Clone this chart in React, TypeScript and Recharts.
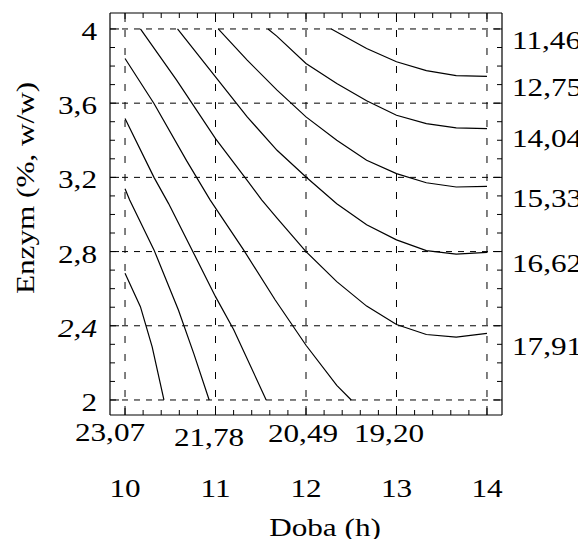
import React from "react";
import { LineChart, Line, XAxis, YAxis, ReferenceLine } from "recharts";

// axis ticks and labels
const X_TICKS = [10, 11, 12, 13, 14];
const X_TICK_LABELS = ["10", "11", "12", "13", "14"];
const X_MINOR = Array.from({ length: 21 }, (_, i) => +(10 + i * 0.2).toFixed(1));
const Y_TICKS = [2, 2.4, 2.8, 3.2, 3.6, 4];
const Y_TICK_LABELS = ["2", "2,4", "2,8", "3,2", "3,6", "4"];
const Y_MINOR = Array.from({ length: 21 }, (_, i) => +(2 + i * 0.1).toFixed(1));

// contour level labels
const BOTTOM_LEVELS = ["23,07", "21,78", "20,49", "19,20"];
const RIGHT_LEVELS = ["11,46", "12,75", "14,04", "15,33", "16,62", "17,91"];

// contour lines (x = Doba, y = Enzym)
const c1275 = [
  { x: 12.28, y: 4.0 }, { x: 12.67, y: 3.895 }, { x: 13.0, y: 3.823 },
  { x: 13.33, y: 3.775 }, { x: 13.66, y: 3.748 }, { x: 14.0, y: 3.744 },
];
const c1404 = [
  { x: 11.58, y: 4.0 }, { x: 11.68, y: 3.96 }, { x: 12.0, y: 3.814 },
  { x: 12.34, y: 3.706 }, { x: 12.67, y: 3.613 }, { x: 13.0, y: 3.535 },
  { x: 13.33, y: 3.49 }, { x: 13.66, y: 3.467 }, { x: 14.0, y: 3.463 },
];
const c1533 = [
  { x: 11.03, y: 4.0 }, { x: 11.35, y: 3.832 }, { x: 11.68, y: 3.67 },
  { x: 12.0, y: 3.526 }, { x: 12.34, y: 3.4 }, { x: 12.67, y: 3.292 },
  { x: 13.0, y: 3.22 }, { x: 13.33, y: 3.171 }, { x: 13.66, y: 3.148 },
  { x: 14.0, y: 3.151 },
];
const c1662 = [
  { x: 10.58, y: 4.0 }, { x: 11.0, y: 3.742 }, { x: 11.35, y: 3.526 },
  { x: 11.68, y: 3.346 }, { x: 12.0, y: 3.202 }, { x: 12.34, y: 3.058 },
  { x: 12.67, y: 2.944 }, { x: 13.0, y: 2.863 }, { x: 13.33, y: 2.805 },
  { x: 13.66, y: 2.786 }, { x: 14.0, y: 2.796 },
];
const c1791 = [
  { x: 10.17, y: 4.0 }, { x: 10.57, y: 3.724 }, { x: 11.0, y: 3.409 },
  { x: 11.35, y: 3.184 }, { x: 11.51, y: 3.079 }, { x: 11.68, y: 2.98 },
  { x: 12.0, y: 2.8 }, { x: 12.34, y: 2.638 }, { x: 12.67, y: 2.506 },
  { x: 13.0, y: 2.407 }, { x: 13.33, y: 2.353 }, { x: 13.66, y: 2.339 },
  { x: 14.0, y: 2.359 },
];
const c1920 = [
  { x: 10.0, y: 3.841 }, { x: 10.32, y: 3.598 }, { x: 10.68, y: 3.29 },
  { x: 10.94, y: 3.079 }, { x: 11.31, y: 2.809 }, { x: 11.66, y: 2.539 },
  { x: 12.0, y: 2.295 }, { x: 12.34, y: 2.079 }, { x: 12.5, y: 2.0 },
];
const c2049 = [
  { x: 10.0, y: 3.517 }, { x: 10.32, y: 3.2 }, { x: 10.48, y: 3.06 },
  { x: 10.76, y: 2.79 }, { x: 11.0, y: 2.557 }, { x: 11.2, y: 2.38 },
  { x: 11.56, y: 2.0 },
];
const c2178 = [
  { x: 10.0, y: 3.139 }, { x: 10.05, y: 3.079 }, { x: 10.32, y: 2.809 },
  { x: 10.59, y: 2.485 }, { x: 10.76, y: 2.25 }, { x: 10.93, y: 2.0 },
];
const c2307 = [
  { x: 10.0, y: 2.683 }, { x: 10.17, y: 2.503 }, { x: 10.3, y: 2.286 },
  { x: 10.43, y: 2.0 },
];
const CONTOURS = [c1275, c1404, c1533, c1662, c1791, c1920, c2049, c2178, c2307];

// layout (page pixels)
const W = 586;
const H = 547;
const PL = 110, PR = 502, PT = 13, PB = 415;
const X_DOMAIN = [9.834, 14.166];
const Y_DOMAIN = [1.919, 4.086];
const BOTTOM_POS = [[110, 441], [209, 446], [303, 442], [389, 442]];
const RIGHT_X = 512;
const RIGHT_Y = [49, 96, 147, 207, 272, 355];

const isOn = (list: number[], v: number) => list.findIndex((t) => Math.abs(t - v) < 1e-6);

function Txt({ x, y, children, anchor = "middle", italic = false, rotate = 0 }: any) {
  return (
    <text
      transform={`translate(${x},${y}) rotate(${rotate}) scale(1.2,1)`}
      textAnchor={anchor}
      style={{ fontFamily: "'Liberation Serif', 'Times New Roman', serif", fontSize: 26 }}
      fontStyle={italic ? "italic" : "normal"}
      fill="#000"
    >
      {children}
    </text>
  );
}

const BottomTick = (p: any) => {
  const i = isOn(X_TICKS, p.payload.value);
  return (
    <g>
      <line x1={p.x} x2={p.x} y1={PB} y2={PB - (i >= 0 ? 9 : 5)} stroke="#000" />
      {i >= 0 && <Txt x={p.x} y={497}>{X_TICK_LABELS[i]}</Txt>}
    </g>
  );
};

const TopTick = (p: any) => {
  const i = isOn(X_TICKS, p.payload.value);
  return <line x1={p.x} x2={p.x} y1={PT} y2={PT + (i >= 0 ? 9 : 5)} stroke="#000" />;
};

const LeftTick = (p: any) => {
  const i = isOn(Y_TICKS, p.payload.value);
  return (
    <g>
      <line x1={PL} x2={PL + (i >= 0 ? 9 : 5)} y1={p.y} y2={p.y} stroke="#000" />
      {i >= 0 && (
        <Txt x={97} y={p.y + 11} anchor="end" italic={Y_TICK_LABELS[i] === "2,4"}>
          {Y_TICK_LABELS[i]}
        </Txt>
      )}
    </g>
  );
};

const RightTick = (p: any) => {
  const i = isOn(Y_TICKS, p.payload.value);
  return <line x1={PR} x2={PR - (i >= 0 ? 9 : 5)} y1={p.y} y2={p.y} stroke="#000" />;
};

const frame = { stroke: "#000", strokeWidth: 1.2 };

export default function App() {
  return (
    <div style={{ width: W, height: H, margin: -8, position: "relative", background: "#fff" }}>
      <LineChart width={W} height={H} margin={{ top: 0, right: 0, bottom: 0, left: 0 }}>
        <XAxis xAxisId="b" type="number" dataKey="x" domain={X_DOMAIN} allowDataOverflow
          ticks={X_MINOR} interval={0} height={H - PB} tickLine={false} axisLine={frame}
          tick={(p: any) => <BottomTick {...p} />} />
        <XAxis xAxisId="t" orientation="top" type="number" dataKey="x" domain={X_DOMAIN} allowDataOverflow
          ticks={X_MINOR} interval={0} height={PT} tickLine={false} axisLine={frame}
          tick={(p: any) => <TopTick {...p} />} />
        <YAxis yAxisId="l" type="number" domain={Y_DOMAIN} allowDataOverflow
          ticks={Y_MINOR} interval={0} width={PL} tickLine={false} axisLine={frame}
          tick={(p: any) => <LeftTick {...p} />} />
        <YAxis yAxisId="r" orientation="right" type="number" domain={Y_DOMAIN} allowDataOverflow
          ticks={Y_MINOR} interval={0} width={W - PR} tickLine={false} axisLine={frame}
          tick={(p: any) => <RightTick {...p} />} />
        {X_TICKS.map((v) => (
          <ReferenceLine key={"gx" + v} x={v} xAxisId="b" yAxisId="l" stroke="#000" strokeDasharray="7 11" />
        ))}
        {Y_TICKS.map((v) => (
          <ReferenceLine key={"gy" + v} y={v} xAxisId="b" yAxisId="l" stroke="#000" strokeDasharray="6 6" />
        ))}
        {CONTOURS.map((c, i) => (
          <Line key={i} data={c} dataKey="y" xAxisId="b" yAxisId="l" type="linear"
            stroke="#000" strokeWidth={1.2} dot={false} activeDot={false} isAnimationActive={false} />
        ))}
      </LineChart>
      <svg width={W} height={H} style={{ position: "absolute", left: 0, top: 0, pointerEvents: "none" }}>
        {BOTTOM_LEVELS.map((t, i) => (
          <Txt key={t} x={BOTTOM_POS[i][0]} y={BOTTOM_POS[i][1]}>{t}</Txt>
        ))}
        {RIGHT_LEVELS.map((t, i) => (
          <Txt key={t} x={RIGHT_X} y={RIGHT_Y[i]} anchor="start">{t}</Txt>
        ))}
        <Txt x={325} y={536}>Doba (h)</Txt>
        <Txt x={34} y={188} rotate={-90}>Enzym (%, w/w)</Txt>
      </svg>
    </div>
  );
}
